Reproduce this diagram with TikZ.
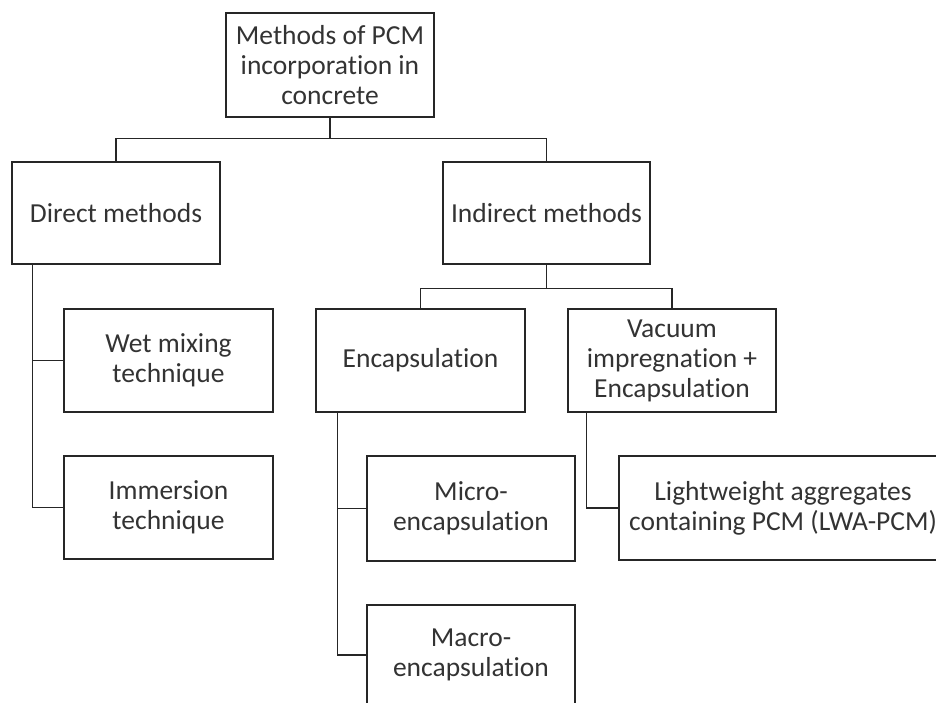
\documentclass[tikz,border=0pt]{standalone}
\usepackage{fontspec}
\setmainfont[Ligatures=NoCommon]{Carlito}
\begin{document}
\begin{tikzpicture}[x=1pt,y=-1pt,
  box/.style={draw=black!85, line width=1.4pt, rectangle, inner sep=0pt, align=center,
    text=black!80, font=\fontsize{27.5}{30}\selectfont},
  conn/.style={draw=black!85, line width=1.4pt}]
\useasboundingbox (0,0) rectangle (936,702);
\clip (0,0) rectangle (936,702);
\node[box, minimum width=208pt, minimum height=104pt] (top) at (330,65) {Methods of PCM\\incorporation in\\concrete};
\node[box, minimum width=208pt, minimum height=102pt] (direct) at (116,213) {Direct methods};
\node[box, minimum width=207pt, minimum height=102pt] (indirect) at (546.5,213) {Indirect methods};
\node[box, minimum width=209pt, minimum height=103pt] (wet) at (168.5,360.5) {Wet mixing\\technique};
\node[box, minimum width=209pt, minimum height=103pt] (imm) at (168.5,507.5) {Immersion\\technique};
\node[box, minimum width=209pt, minimum height=103pt] (encap) at (420.5,360.5) {Encapsulation};
\node[box, minimum width=208pt, minimum height=103pt] (vac) at (672,360.5) {Vacuum\\impregnation +\\Encapsulation};
\node[box, minimum width=208pt, minimum height=105pt] (micro) at (471,508.5) {Micro-\\encapsulation};
\node[box, minimum width=208pt, minimum height=100pt] (macro) at (471,655) {Macro-\\encapsulation};
\node[box, minimum width=328pt, minimum height=104pt] (lwa) at (783,508) {Lightweight aggregates\\containing PCM (LWA-PCM)};
\draw[conn] (top.south) -- ++(0,21) -| (direct.north);
\draw[conn] (top.south) -- ++(0,21) -| (indirect.north);
\draw[conn] ([xshift=21pt]direct.south west) |- (wet.west);
\draw[conn] ([xshift=21pt]direct.south west) |- (imm.west);
\draw[conn] (indirect.south) -- ++(0,24) -| (encap.north);
\draw[conn] (indirect.south) -- ++(0,24) -| (vac.north);
\draw[conn] ([xshift=22pt]encap.south west) |- (micro.west);
\draw[conn] ([xshift=22pt]encap.south west) |- (macro.west);
\draw[conn] ([xshift=19pt]vac.south west) |- (lwa.west);
\end{tikzpicture}
\end{document}
